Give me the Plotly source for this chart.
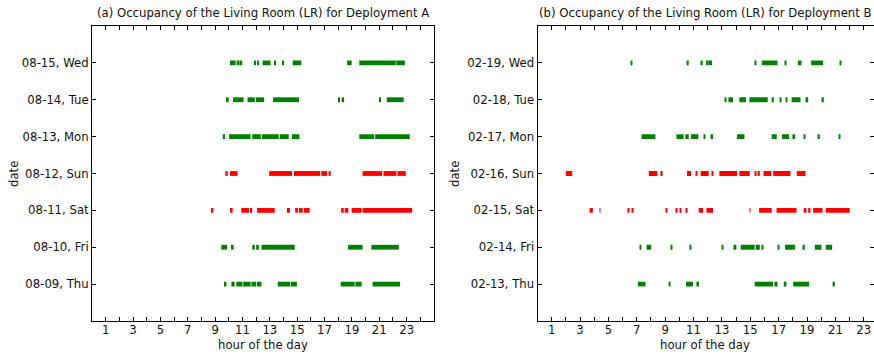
import plotly.graph_objects as go

# ---------------- data ----------------
ROW_LABELS_A = ["08-09, Thu", "08-10, Fri", "08-11, Sat", "08-12, Sun", "08-13, Mon", "08-14, Tue", "08-15, Wed"]
ROW_LABELS_B = ["02-13, Thu", "02-14, Fri", "02-15, Sat", "02-16, Sun", "02-17, Mon", "02-18, Tue", "02-19, Wed"]
WEEKEND = [False, False, True, True, False, False, False]

HOUR_TICKS = list(range(0, 25))
HOUR_LABELS = [str(h) if h % 2 == 1 else "" for h in HOUR_TICKS]

# occupancy intervals (start hour, end hour), deployment A
A_THU = [(9.72, 9.82), (10.19, 10.43), (10.55, 11.0), (11.05, 11.6), (11.65, 12.0), (12.05, 12.39),
         (13.58, 14.5), (14.55, 14.98), (18.18, 19.2), (19.25, 19.71), (20.51, 22.52)]
A_FRI = [(9.45, 9.87), (10.23, 10.35), (11.71, 11.90), (12.00, 12.20), (12.39, 14.82), (18.72, 19.78),
         (20.42, 22.43)]
A_SAT = [(8.76, 8.87), (10.16, 10.28), (10.91, 11.47), (11.54, 11.71), (12.07, 13.36), (14.25, 14.47),
         (14.85, 15.05), (15.13, 15.40), (15.49, 15.91), (18.21, 18.40), (18.47, 18.74), (18.98, 19.71),
         (19.78, 23.40)]
A_SUN = [(9.75, 9.92), (10.09, 10.65), (12.95, 14.62), (14.76, 16.68), (16.76, 17.19), (17.29, 17.45),
         (19.78, 21.21), (21.31, 22.25), (22.33, 22.94)]
A_MON = [(9.56, 9.72), (10.02, 11.59), (11.71, 12.34), (12.41, 13.65), (13.72, 14.38), (14.62, 15.16),
         (19.54, 20.63), (20.70, 23.23)]
A_TUE = [(9.85, 9.99), (10.31, 11.08), (11.37, 11.90), (11.97, 12.58), (13.24, 14.98), (15.03, 15.13),
         (17.99, 18.11), (18.25, 18.43), (21.00, 21.07), (21.55, 22.79)]
A_WED = [(10.09, 10.50), (10.57, 10.79), (10.89, 10.98), (11.90, 11.97), (12.07, 12.15), (12.47, 13.05),
         (13.31, 13.38), (13.96, 14.04), (14.67, 15.30), (18.65, 18.98), (19.54, 22.21), (22.25, 22.87)]

# occupancy intervals (start hour, end hour), deployment B
B_THU = [(7.08, 7.62), (9.24, 9.32), (10.47, 10.96), (11.20, 11.38), (15.31, 16.61), (16.73, 16.80),
         (16.84, 16.91), (17.36, 17.55), (18.02, 19.15), (20.80, 20.96)]
B_FRI = [(7.20, 7.32), (7.69, 8.02), (9.44, 9.51), (10.78, 10.82), (13.01, 13.08), (13.81, 14.02),
         (14.33, 15.31), (15.38, 15.67), (15.83, 15.90), (16.92, 17.01), (17.45, 18.16), (18.68, 18.84),
         (19.55, 20.02), (20.32, 20.77)]
B_SAT = [(3.67, 3.90), (4.38, 4.43), (6.37, 6.44), (6.65, 6.75), (9.08, 9.15), (9.74, 9.83),
         (10.02, 10.14), (10.44, 10.54), (11.36, 11.67), (11.91, 12.37), (14.96, 15.01), (15.62, 16.51),
         (16.85, 18.26), (18.77, 18.96), (19.08, 19.24), (19.43, 20.09), (20.32, 22.01)]
B_SUN = [(2.00, 2.45), (7.85, 8.45), (8.73, 8.82), (10.54, 10.82), (11.15, 11.24), (11.50, 12.07),
         (12.28, 12.37), (12.82, 14.07), (14.23, 14.96), (15.31, 15.38), (15.55, 15.67), (15.93, 16.49),
         (16.61, 17.83), (18.28, 18.89)]
B_MON = [(7.34, 8.31), (9.79, 10.30), (10.42, 10.66), (10.82, 11.34), (11.72, 11.79), (12.23, 12.37),
         (14.06, 14.59), (16.51, 16.87), (17.23, 17.73), (17.97, 18.16), (18.77, 18.86), (19.74, 19.90),
         (21.24, 21.31)]
B_TUE = [(13.22, 13.32), (13.46, 13.78), (14.23, 14.70), (14.94, 16.23), (16.51, 16.66), (17.08, 17.13),
         (17.55, 17.62), (17.91, 18.54), (18.96, 19.08), (20.02, 20.18)]
B_WED = [(6.56, 6.63), (10.56, 10.66), (11.55, 11.64), (11.88, 12.07), (12.09, 12.30), (15.31, 15.38),
         (15.81, 16.92), (17.48, 17.55), (18.35, 18.61), (19.29, 20.13), (21.31, 21.40)]

ROWS_A = [A_THU, A_FRI, A_SAT, A_SUN, A_MON, A_TUE, A_WED]
ROWS_B = [B_THU, B_FRI, B_SAT, B_SUN, B_MON, B_TUE, B_WED]

TITLE_A = "(a) Occupancy of the Living Room (LR) for Deployment A"
TITLE_B = "(b) Occupancy of the Living Room (LR) for Deployment B"

# ---------------- figure ----------------
W, H = 874, 354
ML, MR, MT, MB = 92, 0, 26, 33
PW, PH = W - ML - MR, H - MT - MB
GREEN, RED = "#008000", "#ff0000"
FONT = "DejaVu Sans"
FS = 11.7

fig = go.Figure()


def add_rows(rows, xa, ya):
    for i, intervals in enumerate(rows):
        fig.add_trace(go.Bar(
            orientation="h",
            base=[s for s, e in intervals],
            x=[max(e - s, 0.05) for s, e in intervals],
            y=[i] * len(intervals),
            width=0.13,
            marker=dict(color=RED if WEEKEND[i] else GREEN, line=dict(width=0)),
            xaxis=xa, yaxis=ya, showlegend=False, hoverinfo="skip",
        ))


add_rows(ROWS_A, "x", "y")
add_rows(ROWS_B, "x2", "y2")

left_end = (434 - ML) / PW
right_start = (537.5 - ML) / PW

axis_common = dict(showgrid=False, zeroline=False, showline=True, linecolor="black", linewidth=1,
                   mirror="ticks", ticks="inside", ticklen=4, tickcolor="black", tickwidth=1,
                   tickfont=dict(family=FONT, size=FS, color="#111"))

fig.update_layout(
    width=W, height=H,
    margin=dict(l=ML, r=MR, t=MT, b=MB),
    paper_bgcolor="white", plot_bgcolor="white",
    barmode="overlay",
    xaxis=dict(domain=[0, left_end], range=[0, 25], tickvals=HOUR_TICKS, ticktext=HOUR_LABELS,
               anchor="y", ticklabelstandoff=-2, **axis_common),
    yaxis=dict(domain=[0, 1], range=[-1, 7], tickvals=list(range(7)), ticktext=ROW_LABELS_A,
               anchor="x", **axis_common),
    xaxis2=dict(domain=[right_start, 1], range=[0, 23.72], tickvals=HOUR_TICKS, ticktext=HOUR_LABELS,
                anchor="y2", ticklabelstandoff=-2, **axis_common),
    yaxis2=dict(domain=[0, 1], range=[-1, 7], tickvals=list(range(7)), ticktext=ROW_LABELS_B,
                anchor="x2", **axis_common),
)


def px_x(p):
    return (p - ML) / PW


def px_y(p):
    return (H - MB - p) / PH


ann_font = dict(family=FONT, size=FS, color="#111")
annotations = [
    dict(text=TITLE_A, x=px_x(263), y=px_y(13)),
    dict(text=TITLE_B, x=px_x(705), y=px_y(13)),
    dict(text="hour of the day", x=px_x(263), y=px_y(345)),
    dict(text="hour of the day", x=px_x(705), y=px_y(345)),
    dict(text="date", x=px_x(14), y=px_y(174), textangle=-90),
    dict(text="date", x=px_x(455), y=px_y(174), textangle=-90),
]
for a in annotations:
    fig.add_annotation(xref="paper", yref="paper", showarrow=False, xanchor="center", yanchor="middle",
                       font=ann_font, **a)

fig.write_html("out.html")
